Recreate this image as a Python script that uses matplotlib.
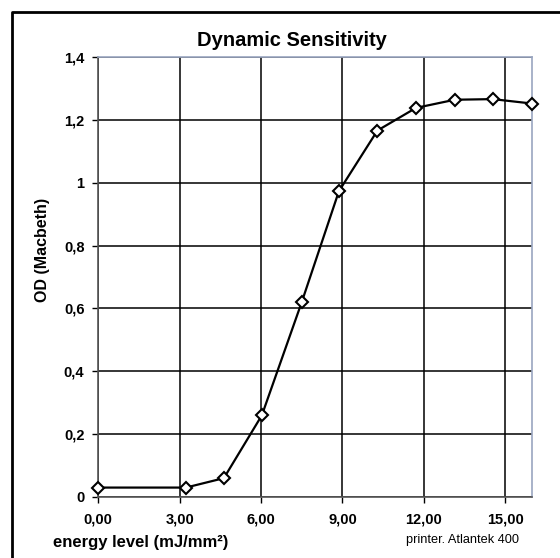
import matplotlib.pyplot as plt
from matplotlib.lines import Line2D

plt.rcParams['font.family'] = ['Liberation Sans', 'DejaVu Sans']

# energy level (mJ/mm²) vs OD (Macbeth)
energy = [0.0, 3.23, 4.63, 6.03, 7.5, 8.87, 10.29, 11.71, 13.14, 14.54, 15.98]
od = [0.03, 0.03, 0.06, 0.26, 0.62, 0.973, 1.166, 1.238, 1.264, 1.266, 1.252]

x_ticks = [0, 3, 6, 9, 12, 15]
x_labels = ['0,00', '3,00', '6,00', '9,00', '12,00', '15,00']
y_ticks = [0, 0.2, 0.4, 0.6, 0.8, 1.0, 1.2, 1.4]
y_labels = ['0', '0,2', '0,4', '0,6', '0,8', '1', '1,2', '1,4']

W, H = 560, 558
fig = plt.figure(figsize=(W / 100, H / 100), dpi=100)
ax = fig.add_axes([98.3 / W, 1 - 497 / H, 434 / W, 440 / H])

ax.plot(energy, od, color='black', linewidth=1.6, marker='D', markersize=6.5,
        markerfacecolor='white', markeredgecolor='black', markeredgewidth=1.5,
        zorder=3, clip_on=False)

ax.set_xlim(0, 16)
ax.set_ylim(0, 1.4)
ax.set_xticks(x_ticks)
ax.set_xticklabels(x_labels, fontsize=10.5, fontweight='bold')
ax.set_yticks(y_ticks)
ax.set_yticklabels(y_labels, fontsize=10.5, fontweight='bold')
ax.tick_params(direction='out', length=4, width=1)
ax.tick_params(axis='x', pad=7)
ax.tick_params(axis='y', pad=6)
ax.grid(True, color='black', linewidth=1.1)
for side in ['left', 'bottom']:
    ax.spines[side].set_color('#555555')
    ax.spines[side].set_linewidth(1.2)
for side in ['top', 'right']:
    ax.spines[side].set_color('#9aa6c0')
    ax.spines[side].set_linewidth(1.2)

fig.text(292 / W, 1 - 41 / H, 'Dynamic Sensitivity', fontsize=14.5,
         fontweight='bold', ha='center', va='center')
fig.text(42 / W, 1 - 250 / H, 'OD (Macbeth)', fontsize=11.5,
         fontweight='bold', rotation=90, ha='center', va='center')
fig.text(53 / W, 1 - 542 / H, 'energy level (mJ/mm²)', fontsize=12,
         fontweight='bold', ha='left', va='center')
fig.text(519 / W, 1 - 540 / H, 'printer. Atlantek 400', fontsize=9.2,
         ha='right', va='center')

# frame around the picture: only top and left edges are inside the crop
fig.lines.append(Line2D([11.5 / W, 11.5 / W, 1], [0, 1 - 12 / H, 1 - 12 / H],
                        transform=fig.transFigure, color='black', linewidth=2))

fig.savefig('out.png', dpi=100)
